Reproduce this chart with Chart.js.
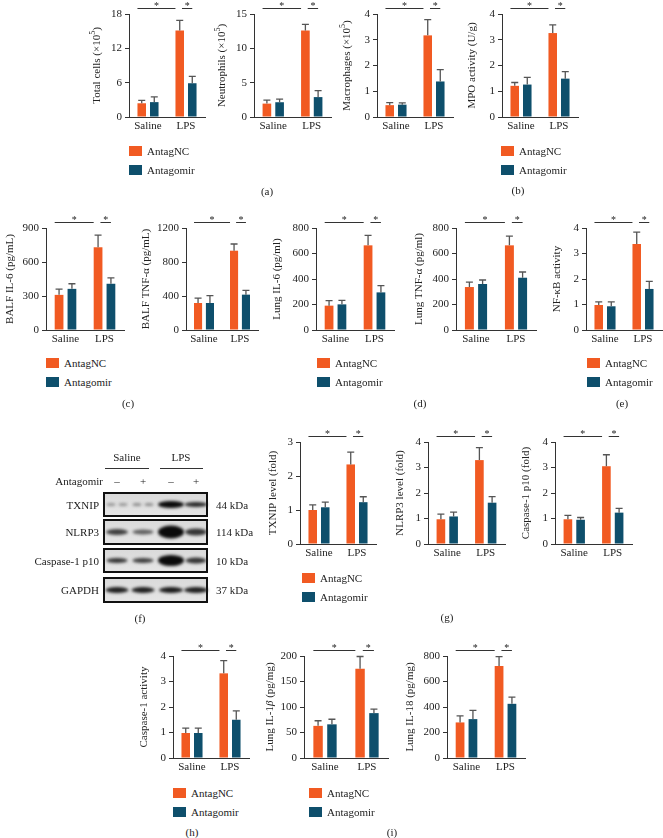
<!DOCTYPE html>
<html>
<head>
<meta charset="utf-8">
<script src="https://cdn.jsdelivr.net/npm/chart.js@4.4.0/dist/chart.umd.min.js"></script>
<style>
  body { margin: 0; width: 663px; height: 838px; position: relative; overflow: hidden; background: #fff;
         font-family: "Liberation Serif", "Times New Roman", serif; color: #222; }
  .t { position: absolute; font-size: 11px; line-height: 13px; white-space: nowrap; }
  .sw { position: absolute; width: 13px; height: 10px; }
  .rule { position: absolute; height: 0; border-top: 1px solid #333; }
</style>
</head>
<body>
<canvas id="blot" width="130" height="130" style="position:absolute;left:95px;top:485px;"></canvas>
<script>
// ---- data (mean and upper error) ----
const groups = ['Saline', 'LPS'];
const seriesNames = ['AntagNC', 'Antagomir'];

const totalCellsNC = [2.4, 15.1],   totalCellsNCErr = [0.5, 1.8];
const totalCellsAnt = [2.6, 5.9],   totalCellsAntErr = [0.9, 1.2];
const neutroNC = [1.95, 12.6],      neutroNCErr = [0.5, 0.9];
const neutroAnt = [2.15, 2.9],      neutroAntErr = [0.45, 0.95];
const macroNC = [0.46, 3.17],       macroNCErr = [0.1, 0.61];
const macroAnt = [0.48, 1.38],      macroAntErr = [0.07, 0.46];
const mpoNC = [1.21, 3.26],         mpoNCErr = [0.13, 0.32];
const mpoAnt = [1.26, 1.49],        mpoAntErr = [0.28, 0.27];

const balfIl6NC = [310, 730],       balfIl6NCErr = [50, 108];
const balfIl6Ant = [363, 408],      balfIl6AntErr = [45, 52];
const balfTnfNC = [318, 933],       balfTnfNCErr = [58, 79];
const balfTnfAnt = [318, 416],      balfTnfAntErr = [86, 51];
const lungIl6NC = [191, 664],       lungIl6NCErr = [39, 78];
const lungIl6Ant = [201, 295],      lungIl6AntErr = [32, 53];
const lungTnfNC = [337, 664],       lungTnfNCErr = [39, 73];
const lungTnfAnt = [361, 410],      lungTnfAntErr = [31, 45];
const nfkbNC = [0.98, 3.37],        nfkbNCErr = [0.12, 0.47];
const nfkbAnt = [0.93, 1.61],       nfkbAntErr = [0.17, 0.30];

const txnipNC = [1.0, 2.34],        txnipNCErr = [0.15, 0.36];
const txnipAnt = [1.08, 1.23],      txnipAntErr = [0.15, 0.16];
const nlrp3NC = [0.97, 3.29],       nlrp3NCErr = [0.2, 0.49];
const nlrp3Ant = [1.08, 1.62],      nlrp3AntErr = [0.17, 0.24];
const p10NC = [0.97, 3.05],         p10NCErr = [0.15, 0.45];
const p10Ant = [0.95, 1.23],        p10AntErr = [0.09, 0.17];

const casp1NC = [0.98, 3.32],       casp1NCErr = [0.19, 0.5];
const casp1Ant = [0.98, 1.50],      casp1AntErr = [0.19, 0.35];
const il1bNC = [63, 175],           il1bNCErr = [10, 24];
const il1bAnt = [66, 88],           il1bAntErr = [10, 8];
const il18NC = [279, 722],          il18NCErr = [52, 73];
const il18Ant = [305, 425],         il18AntErr = [68, 52];

// western blot (f): relative band darkness per lane (Saline -, Saline +, LPS -, LPS +)
const blotRows = ['TXNIP', 'NLRP3', 'Caspase-1 p10', 'GAPDH'];
const blotKda = ['44 kDa', '114 kDa', '10 kDa', '37 kDa'];
const blotLanes = ['–', '+', '–', '+'];
const bandTxnip = [0.35, 0.4, 1.0, 0.85];
const bandNlrp3 = [0.75, 0.6, 1.0, 0.8];
const bandP10 = [0.8, 0.75, 1.0, 0.8];
const bandGapdh = [0.9, 0.9, 0.92, 0.9];

// ---- look ----
const FONT = '"Liberation Serif", "Times New Roman", serif';
const ORANGE = '#F15A22', TEAL = '#0E4F6C', AXIS = '#333', INK = '#222';
Chart.defaults.font.family = FONT;
Chart.defaults.font.size = 11;
Chart.defaults.color = INK;

const YW = 60, XH = 22, PT = 18;

// title markup: ^x superscript char, _x_ italic
const panels = [
  { title: 'Total cells (×10^5)', nc: totalCellsNC, ncErr: totalCellsNCErr, ant: totalCellsAnt, antErr: totalCellsAntErr, max: 18, step: 6, x: 129, w: 76, top: 14, bottom: 117, td: 32 },
  { title: 'Neutrophils (×10^5)', nc: neutroNC, ncErr: neutroNCErr, ant: neutroAnt, antErr: neutroAntErr, max: 15, step: 5, x: 254, w: 77, top: 14, bottom: 117, td: 32 },
  { title: 'Macrophages (×10^5)', nc: macroNC, ncErr: macroNCErr, ant: macroAnt, antErr: macroAntErr, max: 4, step: 1, x: 377, w: 76, top: 14, bottom: 117, td: 30 },
  { title: 'MPO activity (U/g)', nc: mpoNC, ncErr: mpoNCErr, ant: mpoAnt, antErr: mpoAntErr, max: 4, step: 1, x: 502, w: 76, top: 14, bottom: 117, td: 30 },

  { title: 'BALF IL-6 (pg/mL)', nc: balfIl6NC, ncErr: balfIl6NCErr, ant: balfIl6Ant, antErr: balfIl6AntErr, max: 900, step: 300, x: 46, w: 78, top: 228, bottom: 330, td: 36 },
  { title: 'BALF TNF-α (pg/mL)', nc: balfTnfNC, ncErr: balfTnfNCErr, ant: balfTnfAnt, antErr: balfTnfAntErr, max: 1200, step: 400, x: 186, w: 72, top: 228, bottom: 330, td: 40 },
  { title: 'Lung IL-6 (pg/ml)', nc: lungIl6NC, ncErr: lungIl6NCErr, ant: lungIl6Ant, antErr: lungIl6AntErr, max: 800, step: 200, x: 316, w: 78, top: 228, bottom: 330, td: 39 },
  { title: 'Lung TNF-α (pg/ml)', nc: lungTnfNC, ncErr: lungTnfNCErr, ant: lungTnfAnt, antErr: lungTnfAntErr, max: 800, step: 200, x: 456, w: 80, top: 228, bottom: 330, td: 37 },
  { title: 'NF-κB activity', nc: nfkbNC, ncErr: nfkbNCErr, ant: nfkbAnt, antErr: nfkbAntErr, max: 4, step: 1, x: 586, w: 76, top: 228, bottom: 330, td: 29 },

  { title: 'TXNIP level (fold)', nc: txnipNC, ncErr: txnipNCErr, ant: txnipAnt, antErr: txnipAntErr, max: 3, step: 1, x: 300, w: 76, top: 442, bottom: 544, td: 27 },
  { title: 'NLRP3 level (fold)', nc: nlrp3NC, ncErr: nlrp3NCErr, ant: nlrp3Ant, antErr: nlrp3AntErr, max: 4, step: 1, x: 428, w: 77, top: 442, bottom: 544, td: 28 },
  { title: 'Caspase-1 p10 (fold)', nc: p10NC, ncErr: p10NCErr, ant: p10Ant, antErr: p10AntErr, max: 4, step: 1, x: 555, w: 77, top: 442, bottom: 544, td: 29 },

  { title: 'Caspase-1 activity', nc: casp1NC, ncErr: casp1NCErr, ant: casp1Ant, antErr: casp1AntErr, max: 4, step: 1, x: 173, w: 76, top: 656, bottom: 758, td: 29 },
  { title: 'Lung IL-1_β_ (pg/mg)', nc: il1bNC, ncErr: il1bNCErr, ant: il1bAnt, antErr: il1bAntErr, max: 200, step: 50, x: 304, w: 84, top: 656, bottom: 758, td: 34 },
  { title: 'Lung IL-18 (pg/mg)', nc: il18NC, ncErr: il18NCErr, ant: il18Ant, antErr: il18AntErr, max: 800, step: 200, x: 447, w: 78, top: 656, bottom: 758, td: 37 },
];

// upward error bars with a cap
const errorBars = {
  id: 'errorBars',
  afterDatasetsDraw(chart) {
    const ctx = chart.ctx, ys = chart.scales.y;
    ctx.save();
    ctx.strokeStyle = '#555';
    ctx.lineWidth = 1.3;
    chart.data.datasets.forEach((ds, i) => {
      chart.getDatasetMeta(i).data.forEach((bar, j) => {
        const yTop = ys.getPixelForValue(ds.data[j] + ds.err[j]);
        ctx.beginPath();
        ctx.moveTo(bar.x, bar.y);
        ctx.lineTo(bar.x, yTop);
        ctx.moveTo(bar.x - 3.5, yTop);
        ctx.lineTo(bar.x + 3.5, yTop);
        ctx.stroke();
      });
    });
    ctx.restore();
  }
};

// the two "*" brackets above each chart
const sigBrackets = {
  id: 'sigBrackets',
  afterDraw(chart) {
    const ctx = chart.ctx;
    const nc = chart.getDatasetMeta(0).data, an = chart.getDatasetMeta(1).data;
    const y = chart.chartArea.top - 6;
    const spans = [
      [nc[0].x - nc[0].width / 2, nc[1].x - nc[1].width / 2],
      [nc[1].x + nc[1].width / 2 - 2, an[1].x]
    ];
    ctx.save();
    ctx.strokeStyle = AXIS;
    ctx.lineWidth = 1;
    ctx.fillStyle = INK;
    ctx.font = '10px ' + FONT;
    ctx.textAlign = 'center';
    ctx.textBaseline = 'alphabetic';
    spans.forEach(([a, b]) => {
      ctx.beginPath();
      ctx.moveTo(a, Math.round(y) + 0.5);
      ctx.lineTo(b, Math.round(y) + 0.5);
      ctx.stroke();
      ctx.fillText('*', (a + b) / 2, y + 1);
    });
    ctx.restore();
  }
};

function parseRich(text) {
  const segs = [];
  let i = 0;
  while (i < text.length) {
    if (text[i] === '^') { segs.push({ t: text[i + 1], sup: true }); i += 2; }
    else if (text[i] === '_') { const j = text.indexOf('_', i + 1); segs.push({ t: text.slice(i + 1, j), it: true }); i = j + 1; }
    else {
      let j = i;
      while (j < text.length && text[j] !== '^' && text[j] !== '_') j++;
      segs.push({ t: text.slice(i, j) });
      i = j;
    }
  }
  return segs;
}

// rotated y title, drawn by hand so it can carry superscripts / italics
function yTitle(p) {
  return {
    id: 'yTitle',
    afterDraw(chart) {
      const ctx = chart.ctx, area = chart.chartArea;
      const segs = parseRich(p.title);
      const fontFor = s => (s.it ? 'italic ' : '') + (s.sup ? '8px ' : '11px ') + FONT;
      let total = 0;
      segs.forEach(s => { ctx.font = fontFor(s); s.w = ctx.measureText(s.t).width; total += s.w; });
      ctx.save();
      ctx.translate(area.left - p.td, (area.top + area.bottom) / 2);
      ctx.rotate(-Math.PI / 2);
      ctx.fillStyle = INK;
      ctx.textAlign = 'left';
      ctx.textBaseline = 'middle';
      let x = -total / 2;
      segs.forEach(s => { ctx.font = fontFor(s); ctx.fillText(s.t, x, s.sup ? -4 : 0); x += s.w; });
      ctx.restore();
    }
  };
}

function makeChart(p) {
  const cv = document.createElement('canvas');
  const w = YW + p.w + 3, h = PT + (p.bottom - p.top) + XH;
  cv.width = w;
  cv.height = h;
  cv.style.cssText = `position:absolute;left:${p.x - YW}px;top:${p.top - PT}px;width:${w}px;height:${h}px;`;
  document.body.appendChild(cv);
  new Chart(cv, {
    type: 'bar',
    data: {
      labels: groups,
      datasets: [
        { label: seriesNames[0], data: p.nc, err: p.ncErr, backgroundColor: ORANGE },
        { label: seriesNames[1], data: p.ant, err: p.antErr, backgroundColor: TEAL }
      ]
    },
    options: {
      responsive: false,
      animation: false,
      devicePixelRatio: 1,
      layout: { padding: { top: PT, right: 3, left: 0, bottom: 0 } },
      datasets: { bar: { categoryPercentage: 0.66, barPercentage: 0.68, borderWidth: 0 } },
      plugins: { legend: { display: false }, tooltip: { enabled: false } },
      scales: {
        x: {
          offset: true,
          grid: { display: false, drawTicks: false },
          border: { display: true, color: AXIS, width: 1 },
          ticks: { padding: 3, color: INK, font: { size: 11 } },
          afterFit: s => { s.height = XH; }
        },
        y: {
          min: 0,
          max: p.max,
          ticks: { stepSize: p.step, padding: 3, color: INK, font: { size: 11 }, callback: v => String(v) },
          grid: { display: true, drawOnChartArea: false, drawTicks: true, tickLength: 4, color: AXIS },
          border: { display: true, color: AXIS, width: 1 },
          afterFit: s => { s.width = YW; }
        }
      }
    },
    plugins: [errorBars, sigBrackets, yTitle(p)]
  });
}
panels.forEach(makeChart);

// ---- html text helpers ----
function txt(str, x, y, align) {
  const d = document.createElement('div');
  d.className = 't';
  d.textContent = str;
  const tx = align === 'right' ? '-100%' : align === 'left' ? '0' : '-50%';
  d.style.left = x + 'px';
  d.style.top = y + 'px';
  d.style.transform = `translate(${tx},-50%)`;
  document.body.appendChild(d);
}
function legend(x, y) {
  [ORANGE, TEAL].forEach((c, i) => {
    const s = document.createElement('div');
    s.className = 'sw';
    s.style.left = x + 'px';
    s.style.top = (y + i * 19 - 5) + 'px';
    s.style.background = c;
    document.body.appendChild(s);
    txt(seriesNames[i], x + 18, y + i * 19, 'left');
  });
}
function rule(x1, x2, y) {
  const d = document.createElement('div');
  d.className = 'rule';
  d.style.left = x1 + 'px';
  d.style.width = (x2 - x1) + 'px';
  d.style.top = y + 'px';
  document.body.appendChild(d);
}

legend(129, 151); legend(501, 151);
legend(46, 363); legend(317, 363); legend(587, 363);
legend(302, 578);
legend(173, 793); legend(309, 793);

txt('(a)', 267, 191); txt('(b)', 518, 190);
txt('(c)', 128, 403); txt('(d)', 420, 403); txt('(e)', 622, 403);
txt('(f)', 140, 618); txt('(g)', 447, 617);
txt('(h)', 192, 832); txt('(i)', 392, 832);

// ---- western blot (f) ----
txt('Saline', 127, 457); txt('LPS', 181, 457);
rule(105, 149, 468); rule(160, 203, 468);
txt('Antagomir', 103, 481, 'right');
const laneX = [117, 143, 171, 196];
blotLanes.forEach((s, i) => txt(s, laneX[i], 481));
const rowY = [[492, 517], [519, 545], [548, 573], [577, 603]];
blotRows.forEach((r, i) => {
  const mid = (rowY[i][0] + rowY[i][1]) / 2;
  txt(r, 99, mid, 'right');
  txt(blotKda[i], 216, mid, 'left');
});

(function drawBlot() {
  const cv = document.getElementById('blot');
  const ctx = cv.getContext('2d');
  const ox = 95, oy = 485;
  const bands = [bandTxnip, bandNlrp3, bandP10, bandGapdh];
  const heights = [[3, 3, 7, 5], [6, 5, 13, 7], [5, 5, 11, 6], [6, 6, 6, 6]];
  const widths = [[9, 9, 26, 23], [22, 21, 26, 22], [21, 21, 26, 21], [23, 23, 24, 24]];
  rowY.forEach(([t, b], r) => {
    const x0 = 103 - ox, y0 = t - oy, w = 105, h = b - t;
    const g = ctx.createLinearGradient(0, y0, 0, y0 + h);
    g.addColorStop(0, '#d9d9d9');
    g.addColorStop(1, '#e6e6e6');
    ctx.fillStyle = g;
    ctx.fillRect(x0, y0, w, h);
    const cy = y0 + h / 2;
    ctx.save();
    ctx.filter = 'blur(1.4px)';
    bands[r].forEach((a, l) => {
      ctx.fillStyle = `rgba(10,10,10,${a})`;
      const cx = laneX[l] - ox;
      if (r === 0 && l < 2) {
        [-6, 6].forEach(dx => {
          ctx.beginPath();
          ctx.ellipse(cx + dx, cy, widths[r][l] / 2, heights[r][l] / 2, 0, 0, Math.PI * 2);
          ctx.fill();
        });
      } else {
        ctx.beginPath();
        ctx.ellipse(cx, cy, widths[r][l] / 2, heights[r][l] / 2, 0, 0, Math.PI * 2);
        ctx.fill();
      }
    });
    ctx.restore();
    ctx.strokeStyle = '#111';
    ctx.lineWidth = 2;
    ctx.strokeRect(x0 + 1, y0 + 1, w - 2, h - 2);
  });
})();
</script>
</body>
</html>
